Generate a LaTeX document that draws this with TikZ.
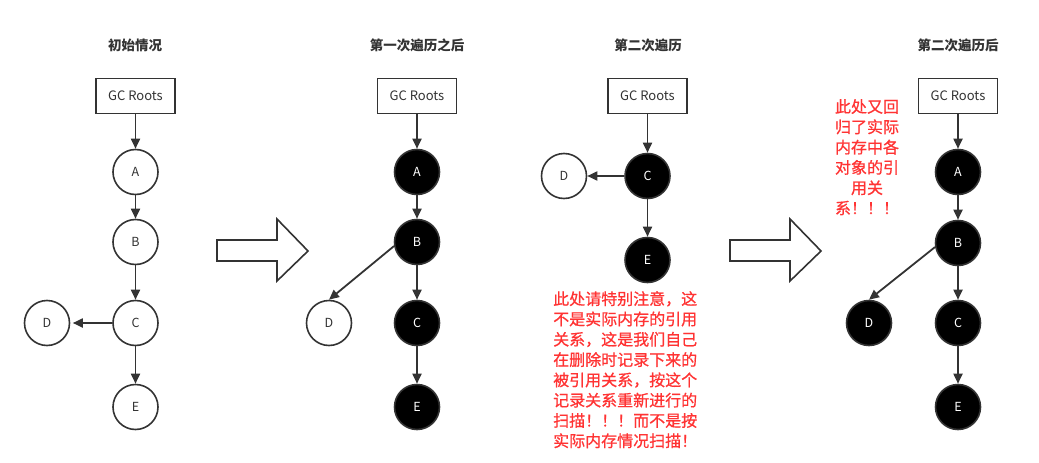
\documentclass[tikz,border=0pt]{standalone}
\usepackage{fontspec}
\setmainfont{Noto Sans CJK SC}
\newfontfamily\notefont{Noto Sans CJK SC}[FakeBold=0.8]
\usetikzlibrary{arrows.meta}
\definecolor{ln}{HTML}{333333}
\definecolor{rd}{HTML}{FF3333}
\tikzset{
  conn/.style={draw=ln, line width=1.8pt, -{Triangle[length=10pt,width=9pt]}},
  rootbox/.style={draw=ln, line width=1.6pt, fill=white, minimum width=79pt, minimum height=35pt, inner sep=0pt, font=\fontsize{13}{14}\selectfont, text=ln},
  wnode/.style={circle, draw=ln, line width=1.6pt, fill=white, minimum size=45pt, inner sep=0pt, font=\fontsize{12.5}{14}\selectfont, text=ln},
  bnode/.style={circle, draw=ln, line width=1.6pt, fill=black, minimum size=45pt, inner sep=0pt, font=\fontsize{12.5}{14}\selectfont, text=white},
  title/.style={font=\fontsize{13.5}{16}\selectfont\bfseries, text=ln},
  note/.style={font=\notefont\fontsize{16}{20.3}\selectfont, text=rd, align=left, inner sep=0pt},
  bigarrow/.style={draw=ln, line width=1.6pt, fill=white, line join=miter}
}
\begin{document}
\begin{tikzpicture}[x=1pt, y=-1pt]
\useasboundingbox (0,0) rectangle (1039,463);
% titles
\node[title] (t1) at (135,45) {初始情况};
\node[title] (t2) at (417,45) {第一次遍历之后};
\node[title] (t3) at (648,45) {第二次遍历};
\node[title] (t4) at (958,45) {第二次遍历后};
% panel 1
\node[rootbox] (R1) at (135.5,96) {GC Roots};
\node[wnode] (A1) at (135.5,172) {A};
\node[wnode] (B1) at (135.5,242) {B};
\node[wnode] (C1) at (135.5,323) {C};
\node[wnode] (D1) at (47,323) {D};
\node[wnode] (E1) at (135.5,407) {E};
\draw[conn] (R1) -- (A1);
\draw[conn] (A1) -- (B1);
\draw[conn] (B1) -- (C1);
\draw[conn, shorten >=2.5pt] (C1) -- (D1);
\draw[conn] (C1) -- (E1);
% big arrow 1
\draw[bigarrow] (217,240) -- (277,240) -- (277,219) -- (308,251) -- (277,281) -- (277,261) -- (217,261) -- cycle;
% panel 2
\node[rootbox] (R2) at (417,96) {GC Roots};
\node[bnode] (A2) at (417,172) {A};
\node[bnode] (B2) at (417,242) {B};
\node[bnode] (C2) at (417,323) {C};
\node[wnode] (D2) at (329,323) {D};
\node[bnode] (E2) at (417,407) {E};
\draw[conn] (R2) -- (A2);
\draw[conn] (A2) -- (B2);
\draw[conn] (B2) -- (C2);
\draw[conn] (B2.190) -- (D2.north);
\draw[conn] (C2) -- (E2);
% panel 3
\node[rootbox] (R3) at (647.5,96) {GC Roots};
\node[bnode] (C3) at (647.5,176) {C};
\node[wnode] (D3) at (564,176) {D};
\node[bnode] (E3) at (647.5,260) {E};
\draw[conn] (R3) -- (C3);
\draw[conn] (C3) -- (D3);
\draw[conn] (C3) -- (E3);
\node[note, anchor=north west] (n3) at (553,291) {此处请特别注意，这\\不是实际内存的引用\\关系，这是我们自己\\在删除时记录下来的\\被引用关系，按这个\\记录关系重新进行的\\扫描！！！而不是按\\实际内存情况扫描！};
% big arrow 2
\draw[bigarrow] (730,240) -- (790,240) -- (790,219) -- (821,251) -- (790,281) -- (790,261) -- (730,261) -- cycle;
% panel 4
\node[rootbox] (R4) at (958,96) {GC Roots};
\node[bnode] (A4) at (958,172) {A};
\node[bnode] (B4) at (958,243) {B};
\node[bnode] (C4) at (958,323) {C};
\node[bnode] (D4) at (869,323) {D};
\node[bnode] (E4) at (958,407) {E};
\draw[conn] (R4) -- (A4);
\draw[conn] (A4) -- (B4);
\draw[conn] (B4) -- (C4);
\draw[conn] (B4.190) -- (D4.north);
\draw[conn] (C4) -- (E4);
\node[note, align=center, anchor=north] (n4) at (867,99) {此处又回\\归了实际\\内存中各\\对象的引\\用关\\系！！！};
\end{tikzpicture}
\end{document}
